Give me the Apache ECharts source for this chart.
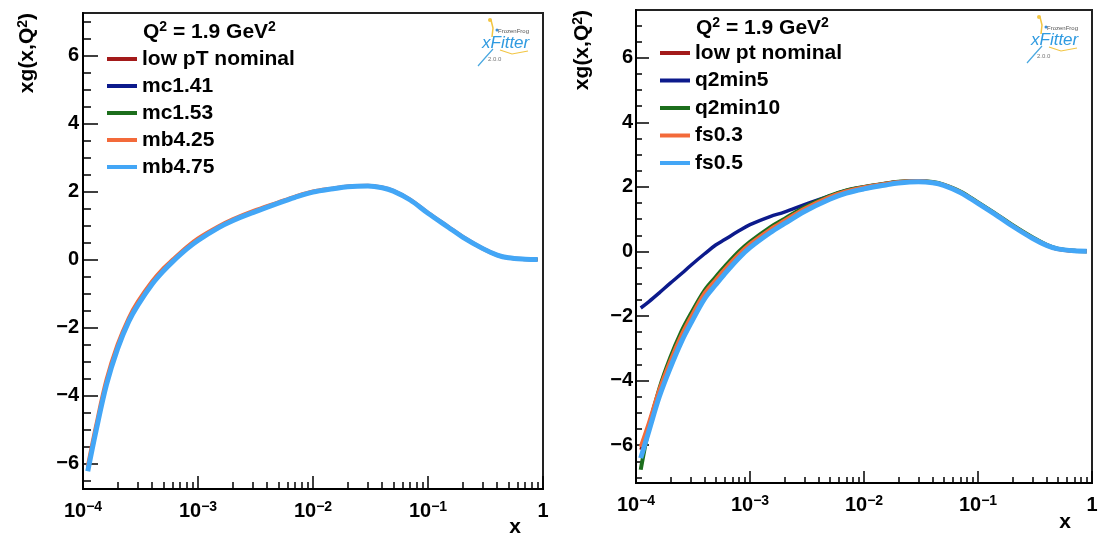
<!DOCTYPE html>
<html>
<head>
<meta charset="utf-8">
<script src="https://cdn.jsdelivr.net/npm/echarts@6/dist/echarts.min.js"></script>
<style>html,body{margin:0;padding:0;background:#fff}#c{width:1101px;height:536px}</style>
</head>
<body>
<div id="c"></div>
<script>
// ---------------- data ----------------
const xValues = [1.1e-4, 1.3e-4, 1.6e-4, 2e-4, 2.5e-4, 3e-4, 4e-4, 5e-4, 6e-4, 8e-4, 1e-3, 1.5e-3, 2e-3, 3e-3, 5e-3, 7e-3, 1e-2, 1.5e-2, 2e-2, 3e-2, 4e-2, 5e-2, 7e-2, 0.1, 0.15, 0.2, 0.3, 0.4, 0.5, 0.7, 0.9];

// left panel
const leftNames = ['low pT nominal', 'mc1.41', 'mc1.53', 'mb4.25', 'mb4.75'];
const leftLowPtNominal = [-6.15, -4.95, -3.60, -2.55, -1.76, -1.28, -0.67, -0.29, -0.03, 0.35, 0.60, 0.96, 1.17, 1.41, 1.68, 1.85, 2.00, 2.10, 2.16, 2.18, 2.13, 2.03, 1.77, 1.38, 0.97, 0.68, 0.33, 0.14, 0.06, 0.02, 0.01];
const leftMc141 = [-6.15, -4.95, -3.60, -2.55, -1.76, -1.28, -0.67, -0.29, -0.03, 0.35, 0.60, 0.96, 1.17, 1.41, 1.68, 1.85, 2.00, 2.10, 2.16, 2.18, 2.13, 2.03, 1.77, 1.38, 0.97, 0.68, 0.33, 0.14, 0.06, 0.02, 0.01];
const leftMc153 = [-6.16, -4.96, -3.61, -2.56, -1.77, -1.29, -0.68, -0.30, -0.04, 0.34, 0.59, 0.95, 1.16, 1.40, 1.68, 1.85, 2.00, 2.10, 2.16, 2.18, 2.13, 2.03, 1.77, 1.38, 0.97, 0.68, 0.33, 0.14, 0.06, 0.02, 0.01];
const leftMb425 = [-6.08, -4.88, -3.53, -2.49, -1.71, -1.23, -0.63, -0.25, 0.00, 0.38, 0.63, 0.98, 1.19, 1.43, 1.69, 1.86, 2.01, 2.10, 2.16, 2.18, 2.13, 2.03, 1.77, 1.38, 0.97, 0.68, 0.33, 0.14, 0.06, 0.02, 0.01];
const leftMb475 = [-6.22, -5.02, -3.67, -2.61, -1.81, -1.33, -0.71, -0.33, -0.06, 0.32, 0.57, 0.94, 1.15, 1.39, 1.67, 1.84, 1.99, 2.09, 2.15, 2.17, 2.12, 2.02, 1.76, 1.37, 0.96, 0.67, 0.33, 0.14, 0.06, 0.02, 0.01];

// right panel
const rightNames = ['low pt nominal', 'q2min5', 'q2min10', 'fs0.3', 'fs0.5'];
const rightLowPtNominal = [-6.14, -5.32, -4.30, -3.40, -2.61, -2.07, -1.30, -0.89, -0.56, -0.09, 0.22, 0.67, 0.94, 1.31, 1.68, 1.86, 1.98, 2.08, 2.14, 2.17, 2.13, 2.05, 1.83, 1.49, 1.09, 0.79, 0.41, 0.19, 0.08, 0.02, 0.01];
const rightQ2min5 = [-1.75, -1.55, -1.28, -0.98, -0.69, -0.44, -0.07, 0.20, 0.37, 0.64, 0.83, 1.08, 1.22, 1.45, 1.72, 1.89, 2.00, 2.10, 2.16, 2.18, 2.14, 2.06, 1.84, 1.50, 1.10, 0.80, 0.42, 0.20, 0.08, 0.02, 0.01];
const rightQ2min10 = [-6.76, -5.45, -4.25, -3.28, -2.48, -1.95, -1.20, -0.79, -0.47, 0.00, 0.30, 0.75, 1.01, 1.37, 1.72, 1.89, 2.00, 2.10, 2.16, 2.18, 2.15, 2.07, 1.86, 1.52, 1.12, 0.82, 0.44, 0.21, 0.09, 0.02, 0.01];
const rightFs03 = [-6.05, -5.30, -4.29, -3.39, -2.60, -2.06, -1.29, -0.88, -0.55, -0.08, 0.23, 0.68, 0.95, 1.32, 1.69, 1.87, 1.99, 2.09, 2.15, 2.18, 2.14, 2.06, 1.84, 1.50, 1.10, 0.80, 0.42, 0.20, 0.08, 0.02, 0.01];
const rightFs05 = [-6.40, -5.55, -4.50, -3.60, -2.80, -2.25, -1.46, -1.03, -0.69, -0.20, 0.12, 0.58, 0.86, 1.24, 1.62, 1.81, 1.94, 2.05, 2.12, 2.16, 2.13, 2.05, 1.83, 1.49, 1.09, 0.79, 0.41, 0.19, 0.08, 0.02, 0.01];

// ticks
const xMajorTicks = [1e-4, 1e-3, 1e-2, 1e-1, 1];
const xMinorTicks = [];
for (let e = -4; e < 0; e++) for (let m = 2; m <= 9; m++) xMinorTicks.push(+(m * Math.pow(10, e)).toPrecision(3));
const yMajorTicks = [-6, -4, -2, 0, 2, 4, 6];
const yMinorTicks = [-7, -6.5, -5.5, -5, -4.5, -3.5, -3, -2.5, -1.5, -1, -0.5, 0.5, 1, 1.5, 2.5, 3, 3.5, 4.5, 5, 5.5, 6.5, 7];

const headerText = 'Q{s|2} = 1.9 GeV{s|2}';
const yTitle = 'xg(x,Q{s|2})';
const xTitle = 'x';

const colors = ['#a31a1a', '#0c1a8c', '#1c6e1c', '#f36a3a', '#43a6f6'];
const leftWidths = [2.5, 3, 3, 4, 5];
const rightWidths = [3, 3.5, 4, 4, 5];

// ---------------- chart ----------------
const F = '"Liberation Sans", Arial, Helvetica, sans-serif';
const chart = echarts.init(document.getElementById('c'), null, {renderer: 'canvas'});

const grids = [
  {left: 83, top: 13, width: 460, height: 476},
  {left: 636, top: 10, width: 456, height: 473}
];
const yRanges = [[-6.74, 7.26], [-7.17, 7.48]];
const tickLen = [{xM: 13, xm: 7, yM: 15, ym: 8}, {xM: 12, xm: 6, yM: 13, ym: 6}];

const xLabelFmt = v => {
  const e = Math.round(Math.log10(v));
  return e === 0 ? '{b|1}' : '{b|10}{s|\u2212' + (-e) + '}';
};
const yLabelFmt = v => (v < 0 ? '\u2212' + (-v) : String(v));

const xAxes = [], yAxes = [];
[0, 1].forEach(g => {
  xAxes.push({
    type: 'log', logBase: 10, gridIndex: g, min: 1e-4, max: 1, position: 'bottom',
    axisLine: {show: true, onZero: false, lineStyle: {color: '#000', width: 2}},
    axisTick: {show: true, inside: true, length: tickLen[g].xM, lineStyle: {color: '#000', width: 1.5}, customValues: xMajorTicks},
    axisLabel: {show: true, margin: 11, customValues: xMajorTicks, showMinLabel: true, showMaxLabel: true,
      formatter: xLabelFmt,
      rich: {
        b: {fontSize: 20, fontWeight: 'bold', fontFamily: F, color: '#000', lineHeight: 22},
        s: {fontSize: 14, fontWeight: 'bold', fontFamily: F, color: '#000', lineHeight: 14, verticalAlign: 'top'}
      }},
    splitLine: {show: false}, minorTick: {show: false}
  });
  xAxes.push({
    type: 'log', logBase: 10, gridIndex: g, min: 1e-4, max: 1, position: 'bottom',
    axisLine: {show: false, onZero: false},
    axisTick: {show: true, inside: true, length: tickLen[g].xm, lineStyle: {color: '#000', width: 1.5}, customValues: xMinorTicks},
    axisLabel: {show: false, customValues: xMinorTicks},
    splitLine: {show: false}
  });
  yAxes.push({
    type: 'value', gridIndex: g, min: yRanges[g][0], max: yRanges[g][1], position: 'left',
    axisLine: {show: true, onZero: false, lineStyle: {color: '#000', width: 2}},
    axisTick: {show: true, inside: true, length: tickLen[g].yM, lineStyle: {color: '#000', width: 1.5}, customValues: yMajorTicks},
    axisLabel: {show: true, margin: g === 0 ? 4 : 3, customValues: yMajorTicks, formatter: yLabelFmt,
      fontSize: 20, fontWeight: 'bold', fontFamily: F, color: '#000'},
    splitLine: {show: false}
  });
  yAxes.push({
    type: 'value', gridIndex: g, min: yRanges[g][0], max: yRanges[g][1], position: 'left',
    axisLine: {show: false, onZero: false},
    axisTick: {show: true, inside: true, length: tickLen[g].ym, lineStyle: {color: '#000', width: 1.5}, customValues: yMinorTicks},
    axisLabel: {show: false, customValues: yMinorTicks},
    splitLine: {show: false}
  });
});

function pairs(ys) { return xValues.map((x, i) => [x, ys[i]]); }
const leftData = [leftLowPtNominal, leftMc141, leftMc153, leftMb425, leftMb475];
const rightData = [rightLowPtNominal, rightQ2min5, rightQ2min10, rightFs03, rightFs05];

const series = [];
leftNames.forEach((n, i) => series.push({
  name: n, type: 'line', xAxisIndex: 0, yAxisIndex: 0, data: pairs(leftData[i]),
  showSymbol: false, symbol: 'none', smooth: 0.35, color: colors[i],
  lineStyle: {color: colors[i], width: leftWidths[i]}, emphasis: {disabled: true}, silent: true
}));
rightNames.forEach((n, i) => series.push({
  name: n, type: 'line', xAxisIndex: 2, yAxisIndex: 2, data: pairs(rightData[i]),
  showSymbol: false, symbol: 'none', smooth: 0.35, color: colors[i],
  lineStyle: {color: colors[i], width: rightWidths[i]}, emphasis: {disabled: true}, silent: true
}));

const legendCommon = {
  orient: 'vertical', padding: 0, icon: 'rect', itemWidth: 30, itemHeight: 4, selectedMode: false,
  textStyle: {fontSize: 21, fontWeight: 'bold', fontFamily: F, color: '#000', lineHeight: 24}
};

const supRich = {s: {fontSize: 14, fontWeight: 'bold', fontFamily: F, fill: '#000', lineHeight: 14, verticalAlign: 'top'}};

function logo(dx, dy) {
  return [
    {type: 'polyline', shape: {points: [[491 + dx, 20 + dy], [493 + dx, 28 + dy], [492 + dx, 37 + dy]]}, style: {stroke: '#f2c542', lineWidth: 1.5, fill: null}, silent: true},
    {type: 'circle', shape: {cx: 490 + dx, cy: 20 + dy, r: 2}, style: {fill: '#f2c542'}, silent: true},
    {type: 'circle', shape: {cx: 497 + dx, cy: 30 + dy, r: 1.5}, style: {fill: '#3a8fd6'}, silent: true},
    {type: 'polyline', shape: {points: [[500 + dx, 50 + dy], [512 + dx, 54 + dy], [528 + dx, 51 + dy]]}, style: {stroke: '#f2c542', lineWidth: 1.2, fill: null}, silent: true},
    {type: 'polyline', shape: {points: [[478 + dx, 66 + dy], [485 + dx, 58 + dy], [493 + dx, 49 + dy]]}, style: {stroke: '#4aa8e0', lineWidth: 1.2, fill: null}, silent: true},
    {type: 'text', x: 498 + dx, y: 31 + dy, silent: true, style: {text: 'FrozenFrog', fill: '#555', font: '6px ' + F, textAlign: 'left', textVerticalAlign: 'middle', verticalAlign: 'middle'}},
    {type: 'text', x: 482 + dx, y: 43 + dy, silent: true, style: {text: 'xFitter', fill: '#2f9ae0', font: 'italic 17px ' + F, textAlign: 'left', textVerticalAlign: 'middle', verticalAlign: 'middle'}},
    {type: 'text', x: 488 + dx, y: 59 + dy, silent: true, style: {text: '2.0.0', fill: '#777', font: '6px ' + F, textAlign: 'left', textVerticalAlign: 'middle', verticalAlign: 'middle'}}
  ];
}

function txt(x, y, text, extra) {
  return Object.assign({type: 'text', x: x, y: y, silent: true,
    style: Object.assign({text: text, fill: '#000', font: 'bold 21px ' + F, rich: supRich}, extra.style || {})}, extra.el || {});
}

const graphic = [
  txt(143, 20, headerText, {style: {textAlign: 'left', textVerticalAlign: 'top', verticalAlign: 'top', lineHeight: 24}}),
  txt(696, 16, headerText, {style: {textAlign: 'left', textVerticalAlign: 'top', verticalAlign: 'top', lineHeight: 24}}),
  txt(27, 13, yTitle, {style: {textAlign: 'right', textVerticalAlign: 'middle', verticalAlign: 'middle'}, el: {rotation: Math.PI / 2}}),
  txt(582, 10, yTitle, {style: {textAlign: 'right', textVerticalAlign: 'middle', verticalAlign: 'middle'}, el: {rotation: Math.PI / 2}}),
  txt(515, 527, xTitle, {style: {textAlign: 'center', textVerticalAlign: 'middle', verticalAlign: 'middle'}}),
  txt(1065, 522, xTitle, {style: {textAlign: 'center', textVerticalAlign: 'middle', verticalAlign: 'middle'}})
].concat(logo(0, 0), logo(549, -3));

chart.setOption({
  animation: false,
  backgroundColor: '#fff',
  grid: grids.map(g => Object.assign({show: true, borderColor: '#222', borderWidth: 2, backgroundColor: 'transparent', containLabel: false, outerBoundsMode: 'none'}, g)),
  xAxis: xAxes,
  yAxis: yAxes,
  legend: [
    Object.assign({left: 107, top: 47, itemGap: 3, data: leftNames}, legendCommon),
    Object.assign({left: 660, top: 41, itemGap: 3.5, data: rightNames}, legendCommon)
  ],
  series: series,
  graphic: graphic
});
</script>
</body>
</html>
